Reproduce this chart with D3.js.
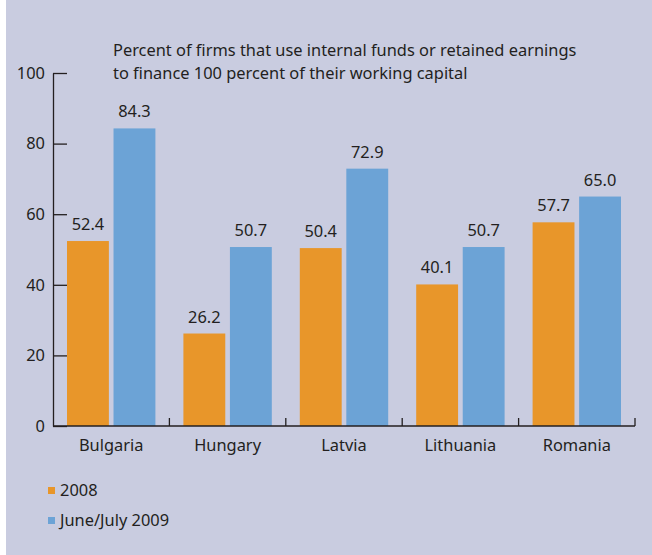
<!DOCTYPE html>
<html>
<head>
<meta charset="utf-8">
<script src="https://cdn.jsdelivr.net/npm/d3@7"></script>
<style>
  html, body { margin: 0; padding: 0; background: #fff; }
  .chart text { font-family: "Noto Sans", "Open Sans", sans-serif; fill: #231f20; }
</style>
</head>
<body>
<div class="chart"></div>
<script>
const categories = ["Bulgaria", "Hungary", "Latvia", "Lithuania", "Romania"];
const series = ["2008", "June/July 2009"];
const values2008 = [52.4, 26.2, 50.4, 40.1, 57.7];
const values2009 = [84.3, 50.7, 72.9, 50.7, 65.0];
const yTicks = [0, 20, 40, 60, 80, 100];
const subtitle = ["Percent of firms that use internal funds or retained earnings",
                  "to finance 100 percent of their working capital"];

const width = 652;
const height = 555;
const fontSize = "16.4px";
const colors = {"2008": "#e8962a", "June/July 2009": "#6ca3d6"};

const svg = d3.select(".chart").append("svg").attr("width", width).attr("height", height);

// panel background with thin white strip at left
svg.append("rect").attr("x", 6).attr("y", 0).attr("width", width - 6).attr("height", height)
    .attr("fill", "#c9cce0");

const x0 = d3.scaleBand().domain(categories).range([53, 635]);
const x1 = d3.scaleBand().domain(series).range([14, x0.bandwidth() - 14]).paddingInner(0.1);
const y = d3.scaleLinear().domain([0, 100]).range([426, 73]);

const rows = categories.map((c, i) => ({cat: c, vals: [
  {key: series[0], value: values2008[i]},
  {key: series[1], value: values2009[i]}
]}));

// subtitle
svg.append("text").attr("x", 113).attr("y", 56).style("font-size", fontSize)
  .selectAll("tspan").data(subtitle).enter().append("tspan")
    .attr("x", 113).attr("dy", (d, i) => i ? 23 : 0).text(d => d);

// y axis
const yAxis = svg.append("g").attr("transform", "translate(53,0)")
    .call(d3.axisLeft(y).tickValues(yTicks).tickSize(-14).tickSizeOuter(0).tickPadding(8));
yAxis.selectAll("path, line").attr("stroke", "#231f20").attr("stroke-width", 1.3);
yAxis.selectAll("text").style("font-size", fontSize).attr("fill", "#231f20");

// bars
const groups = svg.append("g").selectAll("g")
    .data(rows).enter().append("g")
    .attr("transform", d => `translate(${x0(d.cat)},0)`);

groups.selectAll("rect")
    .data(d => d.vals).enter().append("rect")
    .attr("x", d => x1(d.key))
    .attr("y", d => y(d.value))
    .attr("width", x1.bandwidth())
    .attr("height", d => y(0) - y(d.value))
    .attr("fill", d => colors[d.key]);

groups.selectAll("text.val")
    .data(d => d.vals).enter().append("text")
    .attr("class", "val")
    .attr("x", d => x1(d.key) + x1.bandwidth() / 2)
    .attr("y", d => y(d.value) - 11)
    .attr("text-anchor", "middle")
    .style("font-size", fontSize)
    .text(d => d.value.toFixed(1));

// x axis: baseline plus upward ticks at category boundaries
const xAxis = svg.append("g");
xAxis.append("line")
    .attr("x1", x0.range()[0]).attr("x2", x0.range()[1])
    .attr("y1", y(0)).attr("y2", y(0))
    .attr("stroke", "#231f20").attr("stroke-width", 1.3);
xAxis.selectAll("line.tick")
    .data(categories).enter().append("line")
    .attr("class", "tick")
    .attr("x1", d => x0(d) + x0.bandwidth()).attr("x2", d => x0(d) + x0.bandwidth())
    .attr("y1", y(0)).attr("y2", y(0) - 8)
    .attr("stroke", "#231f20").attr("stroke-width", 1.3);
xAxis.selectAll("text")
    .data(categories).enter().append("text")
    .attr("x", d => x0(d) + x0.bandwidth() / 2)
    .attr("y", 451)
    .attr("text-anchor", "middle")
    .style("font-size", fontSize)
    .text(d => d);

// legend
const legend = svg.append("g").selectAll("g")
    .data(series).enter().append("g")
    .attr("transform", (d, i) => `translate(48,${490 + i * 30})`);
legend.append("rect").attr("x", 0).attr("y", -3).attr("width", 7).attr("height", 7)
    .attr("fill", d => colors[d]);
legend.append("text").attr("x", 12).attr("y", 6).style("font-size", fontSize).text(d => d);
</script>
</body>
</html>
